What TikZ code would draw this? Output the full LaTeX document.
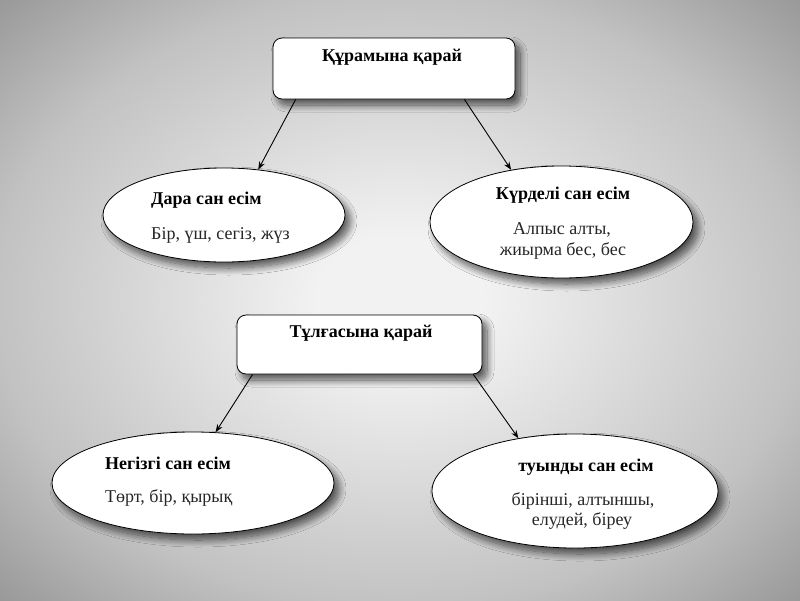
\documentclass[tikz,border=0pt]{standalone}
\usepackage{fontspec}
\setmainfont{Liberation Serif}
\usetikzlibrary{shapes.geometric,shadows.blur,arrows.meta,calc}
\definecolor{bgA}{gray}{0.95}
\definecolor{bgB}{gray}{0.76}
\definecolor{bgC}{gray}{0.58}
\pgfdeclareradialshading{bgshade}{\pgfpoint{0bp}{0bp}}{color(0bp)=(bgA); color(5bp)=(bgA); color(25bp)=(bgB); color(36bp)=(bgC); color(50bp)=(bgC)}
\begin{document}
\begin{tikzpicture}[x=1pt,y=-1pt,
  shadowed/.style={blur shadow={shadow xshift=5pt,shadow yshift=-6pt,shadow blur radius=7pt,shadow blur steps=12,shadow opacity=65}},
  topbox/.style={draw=black,line width=0.8pt,rounded corners=9pt,fill=white,inner sep=0pt,shadowed},
  oval/.style={ellipse,draw=black,line width=0.8pt,fill=white,inner sep=0pt,shadowed},
  head/.style={font=\fontsize{18}{20}\selectfont\bfseries,text=black,inner sep=0pt},
  body/.style={font=\fontsize{18}{20}\selectfont,text=black!85,inner sep=0pt},
  arr/.style={-{Stealth[length=8pt,width=6pt]},line width=0.9pt,draw=black}
]
\useasboundingbox (0,0) rectangle (800,600);
\shade[shading=bgshade] (-6,-6) rectangle (806,606);

% boxes
\node[topbox,minimum width=242pt,minimum height=61pt] (b1) at (394,68.5) {};
\node[topbox,minimum width=245pt,minimum height=59pt] (b2) at (359.5,344.5) {};

% ellipses
\node[oval,minimum width=242pt,minimum height=94pt] (e1) at (224,215) {};
\node[oval,minimum width=263pt,minimum height=112pt] (e2) at (561.5,222) {};
\node[oval,minimum width=282pt,minimum height=102pt] (e3) at (193,483) {};
\node[oval,minimum width=286pt,minimum height=114pt] (e4) at (575,491) {};

% texts
\node[head] (t1) at (392,57) {Құрамына қарай};
\node[head] (t2) at (361,333) {Тұлғасына қарай};
\node[head,anchor=west] (h1) at (151,200) {Дара сан есім};
\node[body,anchor=west] (s1) at (151,235) {Бір, үш, сегіз, жүз};
\node[head] (h2) at (563,195) {Күрделі сан есім};
\node[body] (s2a) at (562,230) {Алпыс алты,};
\node[body] (s2b) at (563,251) {жиырма бес, бес};
\node[head,anchor=west] (h3) at (105,463) {Негізгі сан есім};
\node[body,anchor=west] (s3) at (105,498) {Төрт, бір, қырық};
\node[head] (h4) at (586,467) {туынды сан есім};
\node[body] (s4a) at (583,501) {бірінші, алтыншы,};
\node[body] (s4b) at (582,521) {елудей, біреу};

% connectors
\draw[arr] ($(b1.south west)!0.095!(b1.south east)$) -- (e1.53);
\draw[arr] ($(b1.south west)!0.79!(b1.south east)$) -- (e2.134);
\draw[arr] ($(b2.south west)!0.065!(b2.south east)$) -- (e3.66);
\draw[arr] ($(b2.south west)!0.963!(b2.south east)$) -- (e4.137.5);
\end{tikzpicture}
\end{document}
